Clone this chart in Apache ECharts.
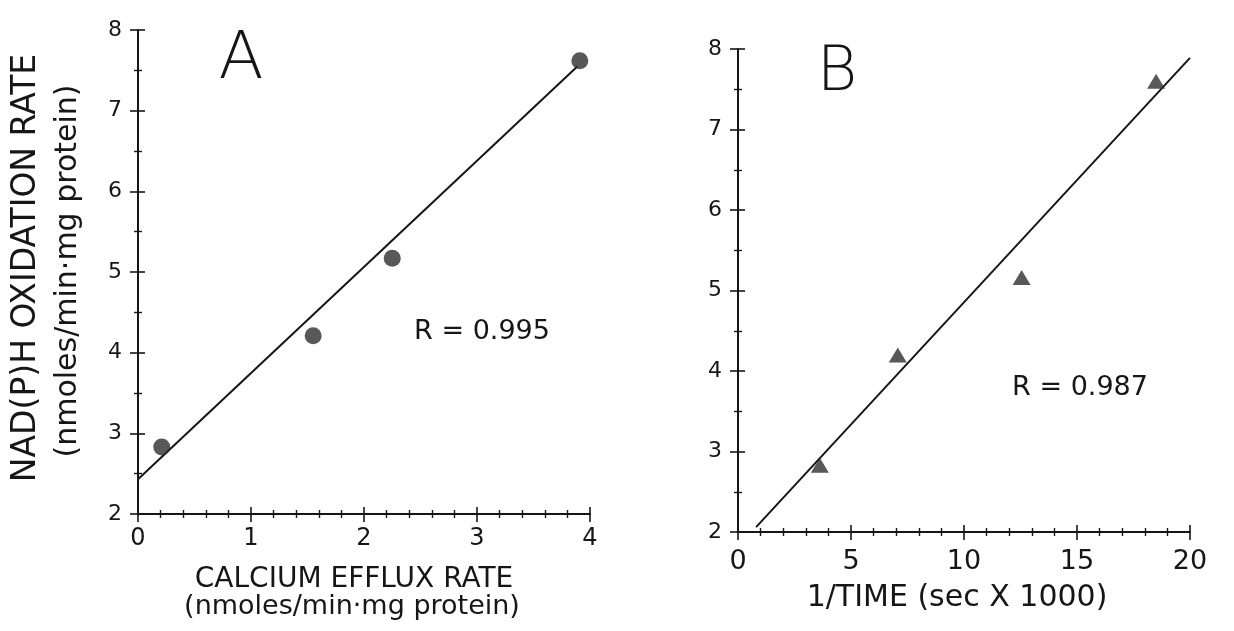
<!DOCTYPE html>
<html>
<head>
<meta charset="utf-8">
<script src="https://cdn.jsdelivr.net/npm/echarts@6/dist/echarts.min.js"></script>
<style>
  html, body { margin: 0; padding: 0; background: #fff; }
  #chart { width: 1234px; height: 631px; }
</style>
</head>
<body>
<div id="chart"></div>
<script>
// ---- Data ----
const panelALabel = 'A';
const panelBLabel = 'B';
const yTitle = 'NAD(P)H OXIDATION RATE';
const ySubtitle = '(nmoles/min\u00b7mg protein)';
const xTitleA = 'CALCIUM EFFLUX RATE';
const xSubtitleA = '(nmoles/min\u00b7mg protein)';
const xTitleB = '1/TIME (sec X 1000)';
const rTextA = 'R = 0.995';
const rTextB = 'R = 0.987';

// Panel A: calcium efflux rate vs NAD(P)H oxidation rate
const aX = [0.21, 1.55, 2.25, 3.91];
const aY = [2.83, 4.21, 5.17, 7.62];
const aFitX = [0, 3.89];
const aFitY = [2.43, 7.55];

// Panel B: 1/time vs NAD(P)H oxidation rate
const bX = [3.62, 7.07, 12.55, 18.5];
const bY = [2.83, 4.20, 5.16, 7.60];
const bFitX = [0.8, 20];
const bFitY = [2.06, 7.89];

// Axis ranges [min, max, interval]
const aXRange = [0, 4, 1];
const bXRange = [0, 20, 5];
const yRange = [2, 8, 1];

// ---- Build ----
const FONT = 'DejaVu Sans';
const INK = '#161616';
const pairs = (xs, ys) => xs.map((x, i) => [x, ys[i]]);

function xAx(grid, r, minorSplit, inside, labelSize, labelMargin) {
  return {
    type: 'value', gridIndex: grid, position: 'bottom', min: r[0], max: r[1], interval: r[2],
    axisLine: { show: !inside, onZero: false, lineStyle: { color: INK, width: 2 } },
    axisTick: { show: true, inside: inside, length: inside ? 7 : 8, lineStyle: { color: INK, width: 1.6 } },
    minorTick: { show: true, splitNumber: minorSplit, length: 4, lineStyle: { color: INK, width: 1.4 } },
    axisLabel: { show: !inside, margin: labelMargin, color: INK, fontSize: labelSize, fontFamily: FONT },
    splitLine: { show: false }, minorSplitLine: { show: false }
  };
}
function yAx(grid, r, minorSplit, inside) {
  return {
    type: 'value', gridIndex: grid, position: 'left', min: r[0], max: r[1], interval: r[2],
    axisLine: { show: !inside, onZero: false, lineStyle: { color: INK, width: 2 } },
    axisTick: { show: true, inside: inside, length: inside ? 7 : 8, lineStyle: { color: INK, width: 1.6 } },
    minorTick: { show: true, splitNumber: minorSplit, length: 4, lineStyle: { color: INK, width: 1.4 } },
    axisLabel: { show: !inside, margin: 16, color: INK, fontSize: 22, fontFamily: FONT },
    splitLine: { show: false }, minorSplitLine: { show: false }
  };
}

function txt(text, x, y, size, opts) {
  opts = opts || {};
  return {
    type: 'text', x: x, y: y, rotation: opts.rot || 0, z: 10,
    style: {
      text: text, fill: INK, fontSize: size, fontFamily: FONT,
      fontWeight: opts.weight || 'normal',
      align: 'center', verticalAlign: 'middle'
    }
  };
}

const chart = echarts.init(document.getElementById('chart'), null, { renderer: 'canvas' });
chart.setOption({
  backgroundColor: '#ffffff',
  animation: false,
  grid: [
    { left: 138, right: 644, top: 30, bottom: 117 },
    { left: 738, right: 44, top: 49, bottom: 99 }
  ],
  xAxis: [
    xAx(0, aXRange, 5, false, 24, 13), xAx(0, aXRange, 5, true, 24, 13),
    xAx(1, bXRange, 5, false, 27, 16), xAx(1, bXRange, 5, true, 27, 16)
  ],
  yAxis: [
    yAx(0, yRange, 2, false), yAx(0, yRange, 2, true),
    yAx(1, yRange, 2, false), yAx(1, yRange, 2, true)
  ],
  series: [
    {
      type: 'line', xAxisIndex: 0, yAxisIndex: 0, data: pairs(aFitX, aFitY),
      symbol: 'none', lineStyle: { color: INK, width: 2 }, z: 2
    },
    {
      type: 'scatter', xAxisIndex: 0, yAxisIndex: 0, data: pairs(aX, aY),
      symbol: 'circle', symbolSize: 17, itemStyle: { color: '#2e2e2e' }, z: 3
    },
    {
      type: 'line', xAxisIndex: 2, yAxisIndex: 2, data: pairs(bFitX, bFitY),
      symbol: 'none', lineStyle: { color: INK, width: 2 }, z: 2
    },
    {
      type: 'scatter', xAxisIndex: 2, yAxisIndex: 2, data: pairs(bX, bY),
      symbol: 'triangle', symbolSize: [18, 15], itemStyle: { color: '#2e2e2e' }, z: 3
    }
  ],
  graphic: [
    txt(yTitle, 26, 268, 33, { rot: Math.PI / 2 }),
    txt(ySubtitle, 68, 271, 30, { rot: Math.PI / 2 }),
    txt(xTitleA, 354, 580, 28),
    txt(xSubtitleA, 352, 607, 27),
    txt(xTitleB, 957, 598, 30),
    txt(rTextA, 482, 332, 27),
    txt(rTextB, 1080, 388, 27),
    txt(panelALabel, 241, 61, 66, { weight: 200 }),
    txt(panelBLabel, 837, 74, 62, { weight: 200 })
  ]
});
</script>
</body>
</html>
